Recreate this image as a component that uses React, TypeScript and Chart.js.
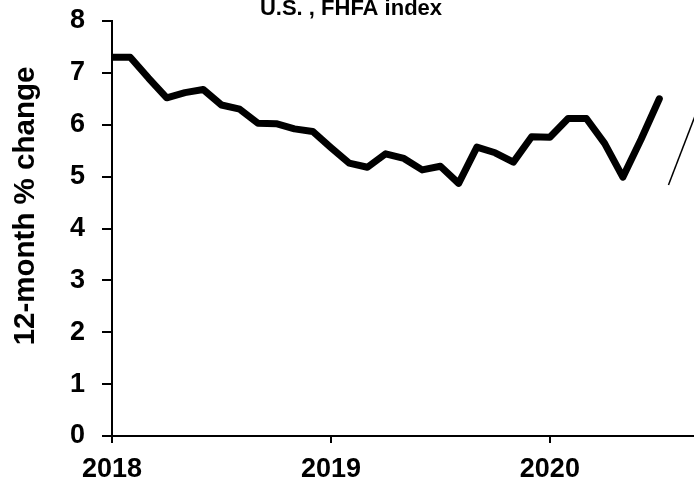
import React, { useEffect, useRef } from 'react';
import { Chart, registerables } from 'chart.js';

Chart.register(...registerables);

const chartTitle = 'U.S. , FHFA index';
const yAxisTitle = '12-month % change';
const yearLabels = ['2018', '2019', '2020'];
const yearTickMonths = [0, 12, 24];
// 12-month % change, monthly from Jan 2018
const fhfaChange = [
  7.3, 7.3, 6.9, 6.52, 6.62, 6.68, 6.38, 6.3, 6.03, 6.02, 5.92, 5.87,
  5.56, 5.26, 5.18, 5.44, 5.35, 5.13, 5.2, 4.87, 5.57, 5.46, 5.28, 5.77,
  5.76, 6.12, 6.12, 5.64, 4.99, 5.72, 6.5,
];
// thin line entering from the right edge
const otherMonths = [30.5, 32.1];
const otherChange = [4.84, 6.3];

const FONT = '"Liberation Sans", Arial, sans-serif';

export default function App() {
  const ref = useRef<HTMLCanvasElement | null>(null);

  useEffect(() => {
    if (!ref.current) return;
    const textPlugin = {
      id: 'texts',
      afterDraw(chart: any) {
        const ctx = chart.ctx;
        ctx.save();
        ctx.fillStyle = '#000';
        ctx.font = `bold 22px ${FONT}`;
        ctx.textAlign = 'center';
        ctx.textBaseline = 'alphabetic';
        ctx.fillText(chartTitle, 351, 15);
        ctx.translate(26, 206);
        ctx.rotate(-Math.PI / 2);
        ctx.font = `bold 29.5px ${FONT}`;
        ctx.textBaseline = 'middle';
        ctx.fillText(yAxisTitle, 0, 0);
        ctx.restore();
      },
    };
    const tickFont = { family: FONT, size: 27, weight: 'bold' as const };
    const chart = new Chart(ref.current, {
      type: 'line',
      data: {
        datasets: [
          {
            data: fhfaChange.map((v, i) => ({ x: i, y: v })),
            borderColor: '#000',
            borderWidth: 7,
            pointRadius: 0,
            tension: 0,
            borderJoinStyle: 'round',
            borderCapStyle: 'round',
          },
          {
            data: otherMonths.map((m, i) => ({ x: m, y: otherChange[i] })),
            borderColor: '#000',
            borderWidth: 1.5,
            pointRadius: 0,
            tension: 0,
          },
        ],
      },
      options: {
        responsive: false,
        animation: false,
        layout: { padding: { top: 21, left: 0, right: 0, bottom: 0 } },
        plugins: { legend: { display: false }, tooltip: { enabled: false }, title: { display: false } },
        scales: {
          x: {
            type: 'linear',
            min: 0,
            max: 31.9,
            afterBuildTicks: (s: any) => {
              s.ticks = yearTickMonths.map((v) => ({ value: v }));
            },
            afterFit: (s: any) => {
              s.height = 46;
              s.paddingLeft = 0;
              s.paddingRight = 0;
            },
            ticks: {
              autoSkip: false,
              maxRotation: 0,
              padding: 10,
              color: '#000',
              font: tickFont,
              callback: (v: any) => {
                const k = yearTickMonths.indexOf(Number(v));
                return k >= 0 ? yearLabels[k] : '';
              },
            },
            grid: { drawOnChartArea: false, tickLength: 7, color: '#000', lineWidth: 2 },
            border: { color: '#000', width: 2 },
          },
          y: {
            min: 0,
            max: 8,
            afterFit: (s: any) => {
              s.width = 112;
              s.paddingTop = 0;
              s.paddingBottom = 0;
            },
            ticks: { stepSize: 1, padding: 17, color: '#000', font: tickFont },
            grid: { drawOnChartArea: false, tickLength: 10, color: '#000', lineWidth: 2 },
            border: { color: '#000', width: 2 },
          },
        },
      },
      plugins: [textPlugin],
    } as any);
    return () => chart.destroy();
  }, []);

  return (
    <div style={{ position: 'fixed', left: 0, top: 0, width: 694, height: 482, background: '#fff' }}>
      <canvas ref={ref} width={694} height={482} style={{ display: 'block' }} />
    </div>
  );
}
